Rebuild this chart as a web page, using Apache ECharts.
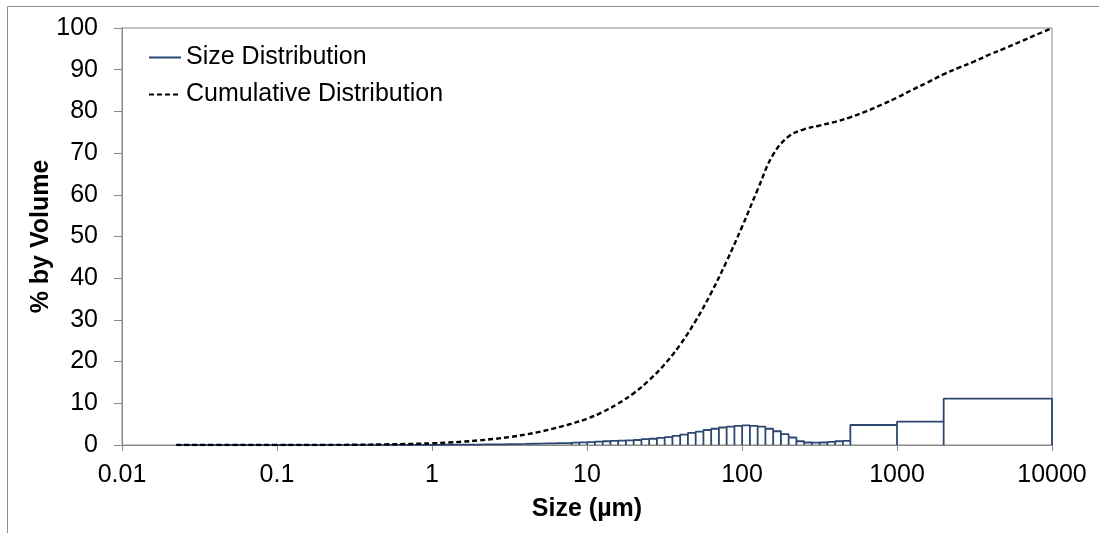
<!DOCTYPE html>
<html>
<head>
<meta charset="utf-8">
<script src="https://cdn.jsdelivr.net/npm/echarts@6/dist/echarts.min.js"></script>
<style>
  html, body { margin: 0; padding: 0; background: #fff; }
  #chart { width: 1099px; height: 533px; }
</style>
</head>
<body>
<div id="chart"></div>
<script>
// bin edges (µm): laser diffraction bins up to 500, then sieve fractions
const binEdges = [
  0.0224, 0.0252, 0.0283, 0.0317, 0.0356, 0.0399, 0.0448, 0.0502, 0.0564, 0.0632,
  0.0710, 0.0796, 0.0893, 0.1002, 0.1125, 0.1262, 0.1416, 0.1589, 0.1783, 0.2000,
  0.2244, 0.2518, 0.2825, 0.3170, 0.3557, 0.3991, 0.4477, 0.5024, 0.5637, 0.6325,
  0.7096, 0.7962, 0.8934, 1.002, 1.125, 1.262, 1.416, 1.589, 1.783, 2.000,
  2.244, 2.518, 2.825, 3.170, 3.557, 3.991, 4.477, 5.024, 5.637, 6.325,
  7.096, 7.962, 8.934, 10.02, 11.25, 12.62, 14.16, 15.89, 17.83, 20.00,
  22.44, 25.18, 28.25, 31.70, 35.57, 39.91, 44.77, 50.24, 56.37, 63.25,
  70.96, 79.62, 89.34, 100.2, 112.5, 126.2, 141.6, 158.9, 178.3, 200.0,
  224.4, 251.8, 282.5, 317.0, 355.7, 399.1, 447.7, 500, 1000, 2000, 10000
];
// % by volume in each bin
const sizeBelow1 = [
  0, 0, 0, 0, 0, 0, 0, 0, 0, 0, 0, 0, 0, 0, 0, 0, 0,
  0.005, 0.008, 0.01, 0.012, 0.015, 0.018, 0.02, 0.022, 0.025, 0.028, 0.03, 0.033, 0.036, 0.04, 0.043, 0.047
];
const size1to10 = [0.05, 0.06, 0.07, 0.08, 0.1, 0.11, 0.13, 0.15, 0.17, 0.2,
  0.23, 0.26, 0.3, 0.34, 0.38, 0.42, 0.47, 0.52, 0.57, 0.63];
const size10to100 = [0.7, 0.8, 0.9, 1.0, 1.05, 1.1, 1.2, 1.4, 1.5, 1.7,
  1.9, 2.2, 2.5, 2.9, 3.2, 3.6, 3.9, 4.2, 4.4, 4.6];
const size100to500 = [4.7, 4.6, 4.4, 3.9, 3.3, 2.6, 1.8, 0.9, 0.6, 0.55, 0.6, 0.75, 0.9, 1.0];
const sizeSieve = [4.8, 5.6, 11.1];

const cumSizes = [0.0224, 0.05, 0.1, 0.2, 0.32, 0.5, 0.63, 0.8, 1, 1.26, 1.58, 2, 2.51, 3.16, 3.98,
  5.01, 6.31, 7.94, 10, 12.6, 15.8, 20, 25.1, 31.6, 39.8, 50.1, 63.1, 79.4, 100, 126, 158, 200,
  251, 316, 398, 501, 631, 794, 1000, 1259, 1585, 1995, 2512, 3162, 3981, 5012, 6310, 7943, 10000];
const cumValues = [0, 0, 0, 0.02, 0.06, 0.15, 0.21, 0.3, 0.4, 0.58, 0.8, 1.1, 1.45, 1.9, 2.5,
  3.2, 4.1, 5.1, 6.3, 7.9, 9.9, 12.4, 15.5, 19.3, 24.0, 29.7, 36.4, 44.0, 52.3, 61.2, 69.5, 74.0,
  75.7, 76.6, 77.5, 78.6, 80.0, 81.6, 83.3, 85.2, 87.0, 88.9, 90.5, 92.0, 93.7, 95.2, 96.8, 98.4, 100];

const xTickLabels = ['0.01', '0.1', '1', '10', '100', '1000', '10000'];

const sizeValues = sizeBelow1.concat(size1to10, size10to100, size100to500, sizeSieve);

// outline of each bin: up, across, down
const sizeOutline = [];
for (let i = 0; i < sizeValues.length; i++) {
  const lo = binEdges[i], hi = binEdges[i + 1], v = sizeValues[i];
  sizeOutline.push([lo, 0], [lo, v], [hi, v], [hi, 0]);
}
const cumData = cumSizes.map((s, i) => [s, cumValues[i]]);

const font = "'Liberation Sans', Arial, sans-serif";
const axisGrey = '#898989';

const chart = echarts.init(document.getElementById('chart'));
chart.setOption({
  animation: false,
  textStyle: { fontFamily: font, color: '#000' },
  graphic: [{
    type: 'rect',
    shape: { x: 7.5, y: 6.5, width: 1300, height: 700 },
    style: { fill: 'none', stroke: '#8c8c8c', lineWidth: 1 },
    silent: true
  }],
  grid: {
    left: 122, right: 47, top: 28, bottom: 88,
    show: true, borderColor: axisGrey, borderWidth: 1
  },
  legend: {
    orient: 'vertical',
    left: 148, top: 45, padding: 0,
    itemWidth: 32, itemHeight: 14, itemGap: 12,
    itemStyle: { opacity: 0 },
    textStyle: { fontFamily: font, fontSize: 25, color: '#000' },
    data: ['Size Distribution', 'Cumulative Distribution']
  },
  xAxis: {
    type: 'log', logBase: 10, min: 0.01, max: 10000,
    name: 'Size (µm)', nameLocation: 'middle', nameGap: 52, nameMoveOverlap: false,
    nameTextStyle: { fontFamily: font, fontSize: 25, fontWeight: 'bold', color: '#000' },
    axisLine: { show: true, onZero: false, lineStyle: { color: axisGrey, width: 1 } },
    axisTick: { show: true, inside: false, length: 6, lineStyle: { color: axisGrey } },
    minorTick: { show: false },
    splitLine: { show: false },
    axisLabel: {
      margin: 18, fontSize: 25, color: '#000', fontFamily: font,
      formatter: v => xTickLabels[Math.round(Math.log10(v)) + 2]
    }
  },
  yAxis: {
    type: 'value', min: 0, max: 100, interval: 10,
    name: '% by Volume', nameLocation: 'middle', nameGap: 68, nameMoveOverlap: false,
    nameTextStyle: { fontFamily: font, fontSize: 25, fontWeight: 'bold', color: '#000' },
    axisLine: { show: true, lineStyle: { color: axisGrey, width: 1 } },
    axisTick: { show: true, inside: false, length: 8, lineStyle: { color: axisGrey } },
    splitLine: { show: false },
    axisLabel: { margin: 24, fontSize: 25, color: '#000', fontFamily: font }
  },
  series: [
    {
      name: 'Size Distribution',
      type: 'line',
      data: sizeOutline,
      symbol: 'none',
      smooth: false,
      lineStyle: { color: '#2c4770', width: 1.8 },
      itemStyle: { color: '#2c4770' }
    },
    {
      name: 'Cumulative Distribution',
      type: 'line',
      data: cumData,
      symbol: 'none',
      smooth: 0.4,
      lineStyle: { color: '#000', width: 2.4, type: [5, 3] },
      itemStyle: { color: '#000' }
    }
  ]
});
</script>
</body>
</html>
